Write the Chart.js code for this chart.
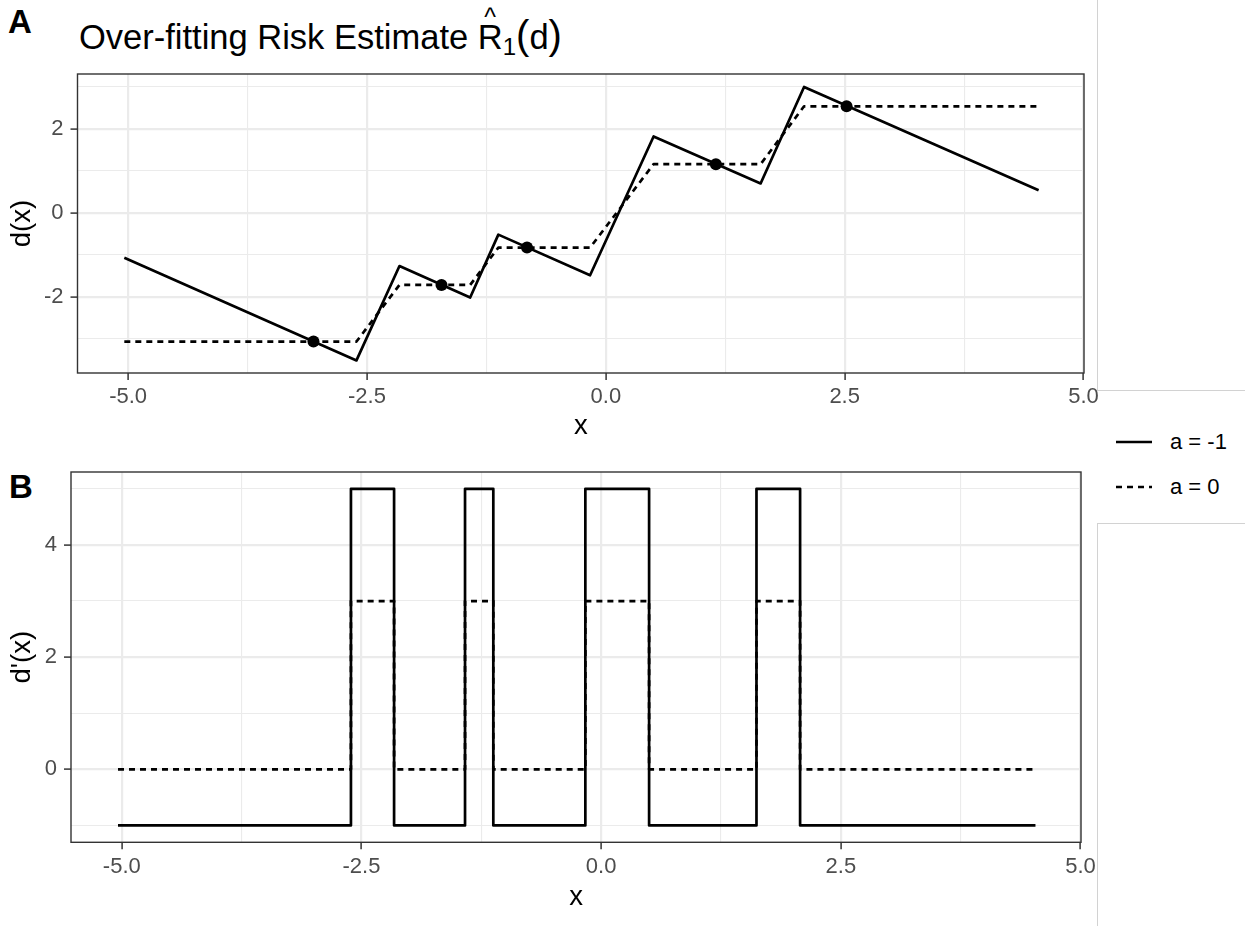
<!DOCTYPE html>
<html>
<head>
<meta charset="utf-8">
<script src="https://cdn.jsdelivr.net/npm/chart.js@4.4.1/dist/chart.umd.min.js"></script>
<style>
  body { margin: 0; background: #fff; width: 1255px; height: 926px; position: relative; overflow: hidden;
         font-family: "Liberation Sans", Arial, sans-serif; color: #000; }
  canvas { position: absolute; left: 0; }
  #chartA { top: 0; }
  #chartB { top: 450px; }
  .tag { position: absolute; font-weight: bold; font-size: 33px; line-height: 33px; }
  #title { position: absolute; left: 79px; top: 18px; font-size: 34.5px; line-height: 34px; white-space: nowrap; }
  #title .r { position: relative; display: inline-block; }
  #title .hat { position: absolute; left: 0; right: 0; top: -20px; text-align: center; font-size: 25px; }
  #title sub { font-size: 24px; vertical-align: -6px; line-height: 0; }
  #title .p { font-size: 40px; }
  .rule { position: absolute; background: #d2d2d2; }
  .lg { position: absolute; left: 1170px; font-size: 22px; line-height: 22px; }
</style>
</head>
<body>
<div class="tag" style="left:8px; top:5px;">A</div>
<div class="tag" style="left:9px; top:470px;">B</div>
<div id="title">Over-fitting Risk Estimate <span class="r">R<span class="hat">^</span></span><sub>1</sub><span class="p">(</span>d<span class="p">)</span></div>

<div class="rule" style="left:1097px; top:0; width:1px; height:390px;"></div>
<div class="rule" style="left:1097px; top:390px; width:148px; height:1px;"></div>
<div class="rule" style="left:1097px; top:523px; width:148px; height:1px;"></div>
<div class="rule" style="left:1097px; top:523px; width:1px; height:403px;"></div>

<svg style="position:absolute; left:1110px; top:430px;" width="50" height="70">
  <line x1="6" y1="12" x2="42" y2="12" stroke="#000" stroke-width="2.7"/>
  <line x1="6" y1="57" x2="42" y2="57" stroke="#000" stroke-width="2.7" stroke-dasharray="6 5"/>
</svg>
<div class="lg" style="top:431px;">a = -1</div>
<div class="lg" style="top:476px;">a = 0</div>

<canvas id="chartA" width="1100" height="450"></canvas>
<canvas id="chartB" width="1100" height="476"></canvas>

<script>
// axis breaks
const xMajor = [-5, -2.5, 0, 2.5, 5];
const xMinor = [-3.75, -1.25, 1.25, 3.75];
const yMajorA = [-2, 0, 2];
const yMinorA = [-3, -1, 1, 3];
const yMajorB = [0, 2, 4];
const yMinorB = [-1, 1, 3, 5];

// panel A: d(x) at the knots
const knotX = [-5.04, -2.61, -2.16, -1.42, -1.125, -0.165, 0.50, 1.62, 2.075, 4.53];
const dSolid = [-1.07, -3.52, -1.27, -2.02, -0.52, -1.49, 1.82, 0.70, 3.00, 0.54];
const dDashed = [-3.07, -3.07, -1.72, -1.72, -0.83, -0.83, 1.16, 1.16, 2.54, 2.54];
const fitX = [-3.06, -1.72, -0.825, 1.152, 2.52];
const fitY = [-3.07, -1.72, -0.83, 1.16, 2.54];

// panel B: d'(x), step functions
const derivX = [-5.04, -2.61, -2.61, -2.16, -2.16, -1.42, -1.42, -1.125, -1.125,
                -0.165, -0.165, 0.50, 0.50, 1.62, 1.62, 2.075, 2.075, 4.53];
const derivSolid = [-1, -1, 5, 5, -1, -1, 5, 5, -1, -1, 5, 5, -1, -1, 5, 5, -1, -1];
const derivDashed = [0, 0, 3, 3, 0, 0, 3, 3, 0, 0, 3, 3, 0, 0, 3, 3, 0, 0];

const pts = (xs, ys) => xs.map((x, i) => ({ x: x, y: ys[i] }));

const FONT = 'Liberation Sans';
const tickFont = { family: FONT, size: 22 };
const titleFont = { family: FONT, size: 27.5 };

// ggplot-like panel border drawn over everything
const panelBorder = {
  id: 'panelBorder',
  afterDraw(chart) {
    const { ctx, chartArea: a } = chart;
    ctx.save();
    ctx.strokeStyle = '#333333';
    ctx.lineWidth = 1.4;
    ctx.strokeRect(a.left, a.top, a.right - a.left, a.bottom - a.top);
    ctx.restore();
  }
};

function axis(o) {
  const all = o.major.concat(o.minor);
  const isMajor = c => c.tick && o.major.includes(c.tick.value);
  return {
    type: 'linear',
    position: o.position,
    min: o.min,
    max: o.max,
    bounds: 'data',
    afterBuildTicks: s => { s.ticks = all.map(v => ({ value: v })); },
    afterFit: s => { if (o.width) s.width = o.width; if (o.height) s.height = o.height; },
    border: { display: false },
    grid: {
      color: '#ebebeb',
      lineWidth: c => isMajor(c) ? 2.2 : 1.1,
      tickLength: 7,
      tickWidth: 1.5,
      tickColor: c => isMajor(c) ? '#333333' : 'rgba(0,0,0,0)'
    },
    ticks: {
      autoSkip: false,
      maxRotation: 0,
      padding: o.padding,
      color: '#4d4d4d',
      font: tickFont,
      callback: v => o.major.includes(v) ? o.fmt(v) : ''
    },
    title: { display: true, text: o.title, color: '#000', font: titleFont, padding: o.titlePad }
  };
}

function panel(id, datasets, o) {
  return new Chart(document.getElementById(id), {
    type: 'scatter',
    data: { datasets: datasets },
    options: {
      responsive: false,
      animation: false,
      layout: { padding: o.pad },
      plugins: { legend: { display: false }, tooltip: { enabled: false } },
      scales: {
        x: axis({ position: 'bottom', min: -5.53, max: 5.005, major: xMajor, minor: xMinor,
                  fmt: v => v.toFixed(1), padding: 4, height: o.xHeight,
                  title: 'x', titlePad: { top: 0, bottom: o.xTitleBottom } }),
        y: axis({ position: 'left', min: o.yMin, max: o.yMax, major: o.yMajor, minor: o.yMinor,
                  fmt: v => String(v), padding: 7, width: o.yWidth,
                  title: o.yTitle, titlePad: { top: 5.5, bottom: 0 } })
      }
    },
    plugins: [panelBorder]
  });
}

const lineStyle = { showLine: true, pointRadius: 0, borderColor: '#000', borderWidth: 2.7,
                    borderJoinStyle: 'round', tension: 0 };

panel('chartA', [
  { label: 'fit', data: pts(fitX, fitY), showLine: false, pointRadius: 6,
    backgroundColor: '#000', borderColor: '#000', borderWidth: 0 },
  Object.assign({ label: 'a = -1', data: pts(knotX, dSolid) }, lineStyle),
  Object.assign({ label: 'a = 0', data: pts(knotX, dDashed), borderDash: [6, 5] }, lineStyle)
], {
  pad: { left: 0, top: 74, right: 16, bottom: 0 },
  yWidth: 77.5, xHeight: 77, xTitleBottom: 7.5,
  yMin: -3.82, yMax: 3.31, yMajor: yMajorA, yMinor: yMinorA, yTitle: 'd(x)'
});

panel('chartB', [
  Object.assign({ label: 'a = -1', data: pts(derivX, derivSolid) }, lineStyle),
  Object.assign({ label: 'a = 0', data: pts(derivX, derivDashed), borderDash: [6, 5] }, lineStyle)
], {
  pad: { left: 0, top: 22, right: 19, bottom: 0 },
  yWidth: 71, xHeight: 83.7, xTitleBottom: 12.5,
  yMin: -1.3, yMax: 5.3, yMajor: yMajorB, yMinor: yMinorB, yTitle: "d'(x)"
});
</script>
</body>
</html>
